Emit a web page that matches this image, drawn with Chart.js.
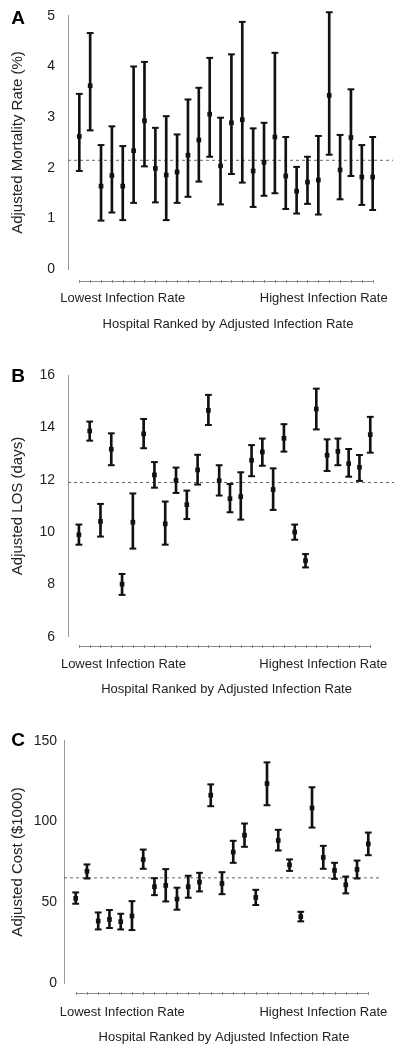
<!DOCTYPE html>
<html>
<head>
<meta charset="utf-8">
<script src="https://cdn.jsdelivr.net/npm/chart.js@4.4.1/dist/chart.umd.min.js"></script>
<style>
  html, body { margin: 0; padding: 0; background: #fff; }
  body { width: 400px; height: 1055px; position: relative; overflow: hidden; }
  .panel { position: absolute; left: 0; width: 400px; }
</style>
</head>
<body>
<div class="panel" style="top:-10px;height:355px"><canvas id="mortalityChart"></canvas></div>
<div class="panel" style="top:345px;height:365px"><canvas id="losChart"></canvas></div>
<div class="panel" style="top:710px;height:345px"><canvas id="costChart"></canvas></div>
<script>
// hospitals ranked by adjusted infection rate
const hospitals = [1, 2, 3, 4, 5, 6, 7, 8, 9, 10, 11, 12, 13, 14, 15, 16, 17, 18, 19, 20, 21, 22, 23, 24, 25, 26, 27, 28];
const costHospitals = [1, 2, 3, 4, 5, 6, 7, 8, 9, 10, 11, 12, 13, 14, 15, 16, 17, 18, 19, 20, 21, 22, 23, 24, 25, 26, 27];

const lowLabel = 'Lowest Infection Rate';
const highLabel = 'Highest Infection Rate';
const xTitle = 'Hospital Ranked by Adjusted Infection Rate';

// A: adjusted mortality rate (%)
const mortality = [2.62, 3.62, 1.64, 1.85, 1.64, 2.34, 2.93, 1.99, 1.86, 1.92, 2.25, 2.55, 3.06, 2.04, 2.89, 2.95, 1.94, 2.11, 2.61, 1.84, 1.54, 1.72, 1.76, 3.43, 1.96, 2.60, 1.82, 1.82];
const mortalityLow = [1.94, 2.74, 0.96, 1.12, 0.97, 1.31, 2.03, 1.32, 0.97, 1.31, 1.43, 1.73, 2.22, 1.28, 1.88, 1.71, 1.23, 1.45, 1.50, 1.19, 1.10, 1.29, 1.08, 2.26, 1.38, 1.84, 1.27, 1.17];
const mortalityHigh = [3.46, 4.66, 2.45, 2.82, 2.43, 4.00, 4.09, 2.79, 3.02, 2.66, 3.35, 3.58, 4.17, 2.99, 4.24, 4.88, 2.78, 2.89, 4.27, 2.61, 2.02, 2.22, 2.63, 5.07, 2.65, 3.55, 2.45, 2.61];
const mortalityRef = 2.15;
const mortalityTicks = [0, 1, 2, 3, 4, 5];

// B: adjusted length of stay (days)
const los = [9.90, 13.87, 10.41, 13.17, 8.01, 10.38, 13.76, 12.19, 10.32, 11.98, 11.05, 12.38, 14.66, 11.97, 11.28, 11.36, 12.75, 13.07, 11.63, 13.59, 10.00, 8.91, 14.71, 12.94, 13.09, 12.62, 12.48, 13.73];
const losLow = [9.52, 13.50, 9.83, 12.56, 7.60, 9.37, 13.21, 11.70, 9.52, 11.50, 10.50, 11.82, 14.10, 11.40, 10.76, 10.48, 12.14, 12.54, 10.85, 13.08, 9.71, 8.65, 13.93, 12.34, 12.56, 12.12, 11.96, 13.04];
const losHigh = [10.29, 14.23, 11.08, 13.78, 8.40, 11.48, 14.33, 12.68, 11.17, 12.47, 11.59, 12.96, 15.25, 12.56, 11.84, 12.29, 13.33, 13.58, 12.44, 14.13, 10.29, 9.16, 15.49, 13.55, 13.58, 13.18, 12.95, 14.41];
const losRef = 11.9;
const losTicks = [6, 8, 10, 12, 14, 16];

// C: adjusted cost ($1000)
const cost = [52.5, 69.3, 38.5, 39.5, 38.1, 41.6, 76.5, 59.7, 60.5, 52.1, 59.7, 62.6, 116.3, 61.7, 81.1, 91.6, 53.1, 123.5, 88.3, 73.2, 41.2, 108.4, 77.8, 69.8, 60.9, 70.4, 86.2];
const costLow = [49.2, 64.8, 33.3, 34.2, 33.3, 32.9, 70.8, 54.5, 50.6, 45.5, 52.9, 56.8, 109.5, 55.1, 74.5, 84.4, 48.4, 110.1, 82.1, 69.5, 38.3, 96.3, 70.8, 64.6, 55.6, 64.8, 79.2];
const costHigh = [56.2, 73.5, 43.8, 45.3, 43.0, 50.8, 82.7, 65.0, 70.6, 59.1, 66.5, 68.3, 123.0, 68.7, 88.1, 98.8, 57.8, 136.6, 94.9, 76.6, 44.2, 121.2, 85.0, 74.5, 66.0, 75.9, 93.2];
const costRef = 65.2;
const costTicks = [0, 50, 100, 150];

const FONT = '"Liberation Sans", Arial, sans-serif';
const INK = '#111';

// draws the panel letter and the detached x axis with its labels
const panelDecor = {
  id: 'panelDecor',
  afterDraw(chart, args, opts) {
    const { ctx, chartArea } = chart;
    const x = chart.scales.x;
    const first = opts.ranks[0];
    const last = opts.ranks[opts.ranks.length - 1];
    const x0 = x.getPixelForValue(first);
    const x1 = x.getPixelForValue(last);
    const ay = Math.round(chartArea.bottom + opts.axisGap) + 0.5;

    ctx.save();
    ctx.strokeStyle = '#888';
    ctx.lineWidth = 1;
    ctx.beginPath();
    ctx.moveTo(x0, ay);
    ctx.lineTo(x1, ay);
    opts.ranks.forEach(r => {
      const px = Math.round(x.getPixelForValue(r)) + 0.5;
      ctx.moveTo(px, ay - 1.5);
      ctx.lineTo(px, ay + 1.5);
    });
    ctx.stroke();

    ctx.fillStyle = '#222';
    ctx.font = '13px ' + FONT;
    ctx.textBaseline = 'middle';
    ctx.textAlign = 'left';
    ctx.fillText(lowLabel, x0 + opts.lowOffset, chartArea.bottom + opts.labelGap);
    ctx.textAlign = 'right';
    ctx.fillText(highLabel, x1 + opts.highOffset, chartArea.bottom + opts.labelGap);
    ctx.textAlign = 'center';
    ctx.fillText(xTitle, (x0 + x1) / 2 + 2, chartArea.bottom + opts.titleGap);

    ctx.font = 'bold 19px ' + FONT;
    ctx.fillStyle = '#000';
    ctx.fillText(opts.letter, 18, chartArea.top + opts.letterDy);
    ctx.restore();
  }
};

function toPoints(ranks, values) {
  return values.map((v, i) => ({ x: ranks[i], y: v }));
}

function makeErrorChart(canvasId, p) {
  const ctx = document.getElementById(canvasId).getContext('2d');
  const bars = p.low.map((lo, i) => ({ x: p.ranks[i], y: [lo, p.high[i]] }));

  return new Chart(ctx, {
    type: 'bar',
    data: {
      datasets: [
        {
          type: 'line',
          data: toPoints(p.ranks, p.mean),
          showLine: false,
          pointStyle: 'rect',
          pointRadius: 3.3,
          pointBackgroundColor: INK,
          pointBorderWidth: 0,
          clip: false
        },
        {
          type: 'line',
          data: toPoints(p.ranks, p.high),
          showLine: false,
          pointStyle: 'line',
          pointRadius: 3.4,
          pointBorderColor: INK,
          pointBorderWidth: 2,
          clip: false
        },
        {
          type: 'line',
          data: toPoints(p.ranks, p.low),
          showLine: false,
          pointStyle: 'line',
          pointRadius: 3.4,
          pointBorderColor: INK,
          pointBorderWidth: 2,
          clip: false
        },
        {
          type: 'bar',
          data: bars,
          backgroundColor: INK,
          borderWidth: 0,
          barThickness: 2,
          clip: false
        },
        {
          type: 'line',
          data: [{ x: p.xMin, y: p.ref }, { x: p.xMax, y: p.ref }],
          borderColor: '#666',
          borderWidth: 1,
          borderDash: [3, 3],
          pointRadius: 0
        }
      ]
    },
    options: {
      responsive: true,
      maintainAspectRatio: false,
      animation: false,
      events: [],
      layout: {
        padding: { left: 0, top: p.top, right: p.right, bottom: p.bottom }
      },
      scales: {
        x: {
          type: 'linear',
          display: false,
          offset: false,
          min: p.xMin,
          max: p.xMax,
          grid: { display: false, offset: false }
        },
        y: {
          min: p.ticks[0],
          max: p.ticks[p.ticks.length - 1],
          beginAtZero: false,
          afterBuildTicks: scale => { scale.ticks = p.ticks.map(v => ({ value: v })); },
          afterFit: scale => { scale.width = p.axisX; },
          grid: { display: false, drawTicks: false },
          border: { display: true, color: '#999', width: 1 },
          ticks: {
            padding: p.tickPad,
            color: '#222',
            font: { family: FONT, size: 14 }
          },
          title: {
            display: true,
            text: p.yTitle,
            color: '#222',
            padding: { top: 8.5, bottom: 0 },
            font: { family: FONT, size: 15 }
          }
        }
      },
      plugins: {
        legend: { display: false },
        tooltip: { enabled: false },
        panelDecor: {
          ranks: p.ranks,
          letter: p.letter,
          letterDy: p.letterDy,
          axisGap: p.axisGap,
          labelGap: p.labelGap,
          titleGap: p.titleGap,
          lowOffset: p.lowOffset,
          highOffset: p.highOffset
        }
      }
    },
    plugins: [panelDecor]
  });
}

makeErrorChart('mortalityChart', {
  ranks: hospitals, mean: mortality, low: mortalityLow, high: mortalityHigh,
  ref: mortalityRef, ticks: mortalityTicks, yTitle: 'Adjusted Mortality Rate (%)', letter: 'A',
  xMin: -0.04, xMax: 29.87, axisX: 68, tickPad: 13,
  top: 25.8, bottom: 75.7, right: 7,
  axisGap: 12, labelGap: 29, titleGap: 55, lowOffset: -19, highOffset: 15, letterDy: 3
});

makeErrorChart('losChart', {
  ranks: hospitals, mean: los, low: losLow, high: losHigh,
  ref: losRef, ticks: losTicks, yTitle: 'Adjusted LOS (days)', letter: 'B',
  xMin: -0.01, xMax: 30.2, axisX: 68, tickPad: 13,
  top: 30.3, bottom: 73.3, right: 3,
  axisGap: 9, labelGap: 28, titleGap: 53, lowOffset: -18, highOffset: 17, letterDy: 1
});

makeErrorChart('costChart', {
  ranks: costHospitals, mean: cost, low: costLow, high: costHigh,
  ref: costRef, ticks: costTicks, yTitle: 'Adjusted Cost ($1000)', letter: 'C',
  xMin: -0.04, xMax: 28.13, axisX: 64, tickPad: 7,
  top: 30.7, bottom: 71.7, right: 19,
  axisGap: 10, labelGap: 29, titleGap: 54, lowOffset: -16, highOffset: 19, letterDy: 0
});
</script>
</body>
</html>
